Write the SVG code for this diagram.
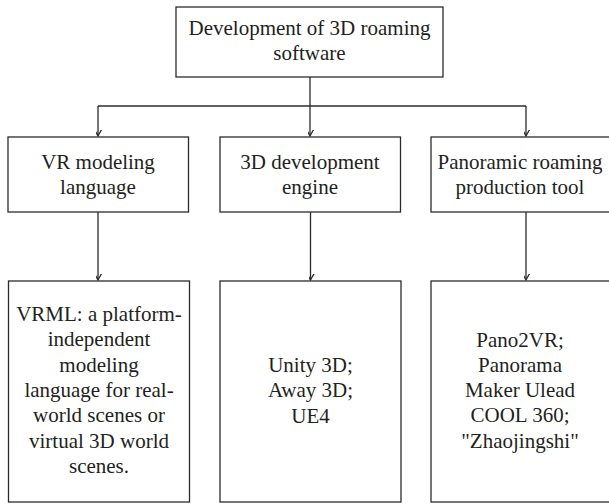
<svg xmlns="http://www.w3.org/2000/svg" width="609" height="504" viewBox="0 0 609 504" font-family="Liberation Serif, Times New Roman, serif">
<style>
.box{fill:#fff;stroke:#2b2b2b;stroke-width:1.3}
.t{font-size:21px;fill:#231f20;text-anchor:middle}
.c{fill:none;stroke:#2b2b2b;stroke-width:1.3}
</style>
<defs>
<marker id="arr" markerUnits="userSpaceOnUse" markerWidth="12" markerHeight="12" viewBox="-6 -10 12 12" refX="0" refY="0" orient="auto-start-reverse">
<path d="M-5,-9 L0,0 L5,-9" fill="none" stroke="#2b2b2b" stroke-width="1.3" transform="rotate(-90)"/>
</marker>
</defs>
<g id="connectors">
<path class="c" d="M310,77 V106"/>
<path class="c" d="M98,106 H526"/>
<path class="c" d="M98,106 V136" marker-end="url(#arr)"/>
<path class="c" d="M310,106 V136" marker-end="url(#arr)"/>
<path class="c" d="M526,106 V136" marker-end="url(#arr)"/>
<path class="c" d="M98,212 V280" marker-end="url(#arr)"/>
<path class="c" d="M310.5,212 V280" marker-end="url(#arr)"/>
<path class="c" d="M526,212 V280" marker-end="url(#arr)"/>
</g>
<g id="root">
<rect class="box" x="176" y="7" width="267" height="70"/>
<text class="t" x="309.5" y="35">Development of 3D roaming</text>
<text class="t" x="309.5" y="60">software</text>
</g>
<g id="vr">
<rect class="box" x="8" y="137" width="180.5" height="75"/>
<text class="t" x="98" y="169">VR modeling</text>
<text class="t" x="98" y="194">language</text>
</g>
<g id="engine">
<rect class="box" x="220" y="137" width="180.5" height="75"/>
<text class="t" x="310" y="169">3D development</text>
<text class="t" x="310" y="194">engine</text>
</g>
<g id="pano">
<rect class="box" x="431" y="137" width="181" height="75"/>
<text class="t" x="520" y="169">Panoramic roaming</text>
<text class="t" x="520" y="194">production tool</text>
</g>
<g id="vrml">
<rect class="box" x="8.5" y="281" width="181" height="221"/>
<text class="t" x="99" y="321">VRML: a platform-</text>
<text class="t" x="99" y="346.3">independent</text>
<text class="t" x="99" y="371.6">modeling</text>
<text class="t" x="99" y="397">language for real-</text>
<text class="t" x="99" y="422.3">world scenes or</text>
<text class="t" x="99" y="447.6">virtual 3D world</text>
<text class="t" x="99" y="473">scenes.</text>
</g>
<g id="engines">
<rect class="box" x="220" y="281" width="181" height="221"/>
<text class="t" x="310.5" y="372">Unity 3D;</text>
<text class="t" x="310.5" y="397.3">Away 3D;</text>
<text class="t" x="310.5" y="422.6">UE4</text>
</g>
<g id="tools">
<rect class="box" x="431" y="281" width="181" height="221"/>
<text class="t" x="520" y="346.5">Pano2VR;</text>
<text class="t" x="520" y="371.8">Panorama</text>
<text class="t" x="520" y="397.1">Maker Ulead</text>
<text class="t" x="520" y="422.4">COOL 360;</text>
<text class="t" x="520" y="447.7">"Zhaojingshi"</text>
</g>
</svg>
